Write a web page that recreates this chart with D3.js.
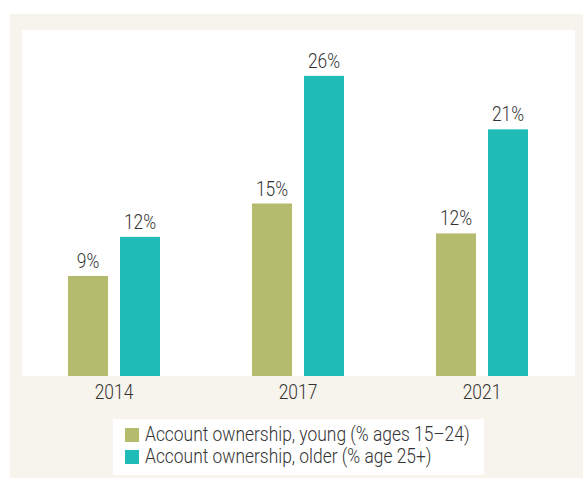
<!DOCTYPE html>
<html><head><meta charset="utf-8">
<script src="https://cdn.jsdelivr.net/npm/d3@7"></script>
<style>
html,body{margin:0;padding:0;background:#fff;}
text{font-family:"Roboto","Liberation Sans",sans-serif;font-weight:300;fill:#333;}
</style></head>
<body><svg id="c" width="583" height="478"></svg>
<script>
const years = ["2014", "2017", "2021"];
const series = ["young", "older"];
const seriesLabels = ["Account ownership, young (% ages 15\u201324)", "Account ownership, older (% age 25+)"];
const youngValues = [8.7, 15.0, 12.4];
const olderValues = [12.1, 26.1, 21.45];
const colors = ["#b5bb6d", "#20bdb8"];

const svg = d3.select("#c");
svg.append("rect").attr("x", 10).attr("y", 14).attr("width", 573).attr("height", 464).attr("fill", "#f7f3ed");
svg.append("rect").attr("x", 22).attr("y", 30).attr("width", 553).attr("height", 346).attr("fill", "#ffffff");

const x = d3.scaleBand().domain(years).range([22, 574]).padding(0);
const y = d3.scaleLinear().domain([0, 30]).range([376, 31]);
const xi = d3.scaleBand().domain(series).range([-46, 46]).paddingInner(12 / 52);

const data = years.map((yr, i) => ({year: yr, vals: [
  {s: "young", v: youngValues[i]}, {s: "older", v: olderValues[i]}]}));

const g = svg.selectAll("g.grp").data(data).join("g")
  .attr("transform", d => `translate(${x(d.year) + x.bandwidth() / 2},0)`);

g.selectAll("rect").data(d => d.vals).join("rect")
  .attr("x", d => xi(d.s)).attr("width", xi.bandwidth())
  .attr("y", d => y(d.v)).attr("height", d => y(0) - y(d.v))
  .attr("fill", (d, i) => colors[i]);

g.selectAll("text.val").data(d => d.vals).join("text").attr("class", "val")
  .attr("x", d => xi(d.s) + xi.bandwidth() / 2)
  .attr("y", d => y(d.v) - 8)
  .attr("text-anchor", "middle").attr("font-size", 20)
  .text(d => Math.round(d.v) + "%");

const xAxis = svg.append("g").attr("transform", "translate(0,376)")
  .call(d3.axisBottom(x).tickSize(0).tickPadding(9));
xAxis.select(".domain").remove();
xAxis.attr("font-family", null).attr("font-size", null);
xAxis.selectAll("text").attr("font-size", 20).attr("fill", null);

const lg = svg.append("g");
lg.append("rect").attr("x", 113).attr("y", 419).attr("width", 371).attr("height", 56).attr("fill", "#fff");
seriesLabels.forEach((lab, i) => {
  lg.append("rect").attr("x", 125).attr("y", 428 + i * 22).attr("width", 14).attr("height", 14).attr("fill", colors[i]);
  lg.append("text").attr("class", "leg").attr("x", 145).attr("y", 441 + i * 22).attr("font-size", 20).text(lab);
});

// condense all text to mimic the narrow typeface
svg.selectAll("text").each(function() {
  const w = this.getComputedTextLength();
  d3.select(this).attr("textLength", w * 0.87).attr("lengthAdjust", "spacingAndGlyphs");
});
</script></body></html>
